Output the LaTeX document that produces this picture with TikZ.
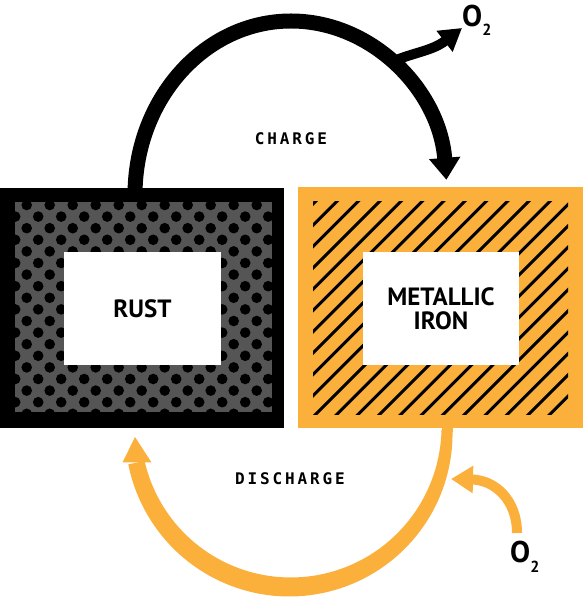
\documentclass[tikz,border=0pt]{standalone}
\usepackage{fontspec}
\setmainfont{PT Sans}
\newfontfamily\monolabel[LetterSpace=18]{DejaVu Sans Mono}
\usetikzlibrary{arrows.meta}
\definecolor{ironorange}{RGB}{251,176,59}
\definecolor{rustgray}{RGB}{85,85,85}
\tikzset{
  declare function={ow(\t)=11+5.61*sin(-\t)+4.71*(-\t/177);},
  boxlabel/.style={fill=white, inner sep=0pt, minimum height=113pt, minimum width=157pt,
    align=center, font=\fontsize{25}{24}\selectfont\bfseries},
  steplabel/.style={font=\monolabel\fontsize{16}{16}\selectfont\bfseries},
  oxy/.style={anchor=base west, inner sep=0pt, font=\fontsize{30}{30}\selectfont\bfseries},
  chargearc/.style={line width=15pt, -{Triangle[length=22pt,width=30pt]}},
  oxyarrowblack/.style={line width=10pt, -{Triangle[length=22pt,width=25pt]}},
  oxyarroworange/.style={ironorange, line width=10pt, -{Triangle[length=22pt,width=26pt]}},
}
\newcommand{\subtwo}{\raisebox{-9pt}{\fontsize{16}{16}\selectfont 2}}
\begin{document}
\begin{tikzpicture}[x=1pt,y=1pt]
\useasboundingbox (0,0) rectangle (583,600);

% ---- rust box
\node[fill=black, minimum width=284pt, minimum height=240pt, inner sep=0pt] (rustbox) at (142,292) {};
\fill[rustgray] (15,188) rectangle (272,398);
\begin{scope}
  \clip (15,188) rectangle (272,398);
  \foreach \r in {0,...,19}{
    \pgfmathsetmacro{\yy}{395-11.6*\r}
    \pgfmathsetmacro{\off}{mod(\r,2)*(-11.5)}
    \foreach \k in {0,...,12}{
      \fill (26.7+23*\k+\off, \yy) circle[radius=5.3];
    }
  }
\end{scope}
\node[boxlabel] (rust) at (142.5,291.5) {RUST};

% ---- iron box
\node[fill=ironorange, minimum width=285pt, minimum height=241pt, inner sep=0pt] (ironbox) at (440.5,292.5) {};
\begin{scope}
  \clip (313,185) rectangle (568,398);
  \foreach \k in {-1,...,23}{
    \draw[line width=3pt] ({-83+21.3*\k+170},170) -- ({-83+21.3*\k+420},420);
  }
\end{scope}
\node[boxlabel, minimum width=156pt] (iron) at (441,291.5) {METALLIC\\IRON};

% ---- charge arc
\coordinate (chargestart) at (135,405);
\draw[chargearc] (chargestart) arc[start angle=180, end angle=5, x radius=156, y radius=174] coordinate (chargeend);
\coordinate (branchtop) at (391.3,538);
\node[oxy] (otop) at (462,573) {O\subtwo};
\draw[oxyarrowblack] (branchtop) .. controls (415,548) and (432,549) .. (462,572);
\node[steplabel] (charge) at (291,461) {CHARGE};

% ---- discharge arc (tapered stroke)
\fill[ironorange] (441.5,168) rectangle (452.5,180);
\fill[ironorange]
  plot[domain=0:-168, samples=80, variable=\t] ({290+(157+ow(\t)/2)*cos(\t)}, {170+(157+ow(\t)/2)*sin(\t)})
  -- plot[domain=-168:0, samples=80, variable=\t] ({290+(157-ow(\t)/2)*cos(\t)}, {170+(157-ow(\t)/2)*sin(\t)})
  -- cycle;
\coordinate (dischargeend) at (135,163);
\fill[ironorange] (dischargeend) -- (122.5,137.5) -- (151.5,137.5) -- cycle;
\node[oxy] (obottom) at (510,37) {O\subtwo};
\draw[oxyarroworange] (517,67) .. controls (517,100) and (495,120) .. (451,121);
\node[steplabel] (discharge) at (290,121) {DISCHARGE};
\end{tikzpicture}
\end{document}
